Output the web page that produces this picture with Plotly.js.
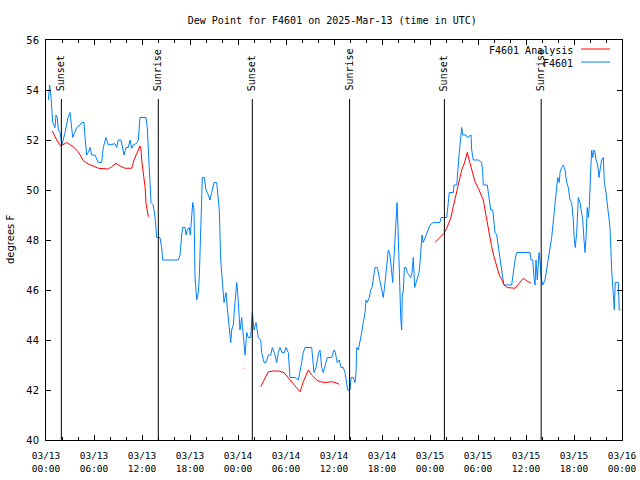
<!DOCTYPE html>
<html>
<head>
<meta charset="utf-8">
<script src="https://cdn.plot.ly/plotly-3.0.1.min.js"></script>
<style>html,body{margin:0;padding:0;background:#fff;}#chart{width:640px;height:480px;}</style>
</head>
<body>
<div id="chart"></div>
<script>
// Hours after 2025-03-13 00:00 UTC
const observedHours = [0.29,0.46,0.63,0.84,1.13,1.25,1.41,1.54,1.75,1.88,2.0,2.38,2.75,3.0,3.16,3.34,3.84,4.25,4.46,4.75,4.88,5.09,5.29,5.5,5.71,6.13,6.54,6.96,7.16,7.5,7.79,8.63,8.84,9.04,9.38,9.59,9.75,10.0,10.29,10.5,10.71,10.91,11.34,11.54,11.75,12.5,12.66,12.91,13.13,13.41,13.63,13.84,14.04,14.25,14.46,14.59,16.54,16.75,16.96,17.09,17.38,17.5,17.66,17.91,18.04,18.21,18.34,18.5,18.63,18.84,19.04,19.16,19.34,19.54,19.79,20.0,20.29,20.5,20.71,21.0,21.34,21.46,21.66,21.84,22.09,22.25,22.38,22.5,22.66,22.91,23.09,23.21,23.41,23.63,23.84,23.96,24.09,24.25,24.46,24.66,24.88,25.09,25.29,25.59,25.79,26.0,26.25,26.54,26.84,26.96,27.25,27.5,27.79,28.09,28.29,28.54,28.84,29.04,29.25,29.5,29.79,30.0,30.29,30.5,31.13,31.54,31.75,31.96,32.16,32.38,33.21,33.34,33.5,33.75,33.91,34.09,34.25,34.46,34.66,34.88,35.16,35.5,35.71,36.0,36.16,36.41,36.66,36.88,37.16,37.38,37.59,37.71,38.0,38.13,38.41,38.63,38.75,38.84,39.04,39.25,39.46,39.66,39.88,40.0,40.16,40.41,40.59,40.75,40.91,41.13,41.41,41.66,41.96,42.16,42.38,42.59,42.79,43.0,43.21,43.34,43.41,43.54,43.66,43.79,43.88,44.0,44.13,44.21,44.34,44.46,44.54,44.66,44.79,45.0,45.16,45.38,45.59,45.75,45.91,46.09,46.25,46.41,46.63,46.75,46.88,47.0,47.16,47.38,47.59,48.0,48.41,48.91,49.25,49.38,50.09,50.29,50.41,50.91,51.0,51.34,51.46,51.66,51.84,51.96,52.09,52.5,52.66,53.13,53.21,53.41,54.04,54.46,54.59,54.66,55.16,55.29,55.41,55.59,55.84,56.0,56.13,56.34,56.46,56.63,56.75,56.96,57.09,57.25,58.21,58.41,58.63,58.84,60.5,60.63,60.84,61.0,61.13,61.25,61.41,61.63,61.75,61.88,62.09,62.38,62.59,62.91,63.21,63.41,63.63,63.84,63.96,64.16,64.25,64.46,64.66,64.88,65.09,65.29,65.5,65.71,65.91,66.04,66.16,66.34,66.46,66.54,66.75,66.96,67.09,67.25,67.38,67.5,67.66,67.79,67.91,68.09,68.21,68.34,68.5,68.63,68.75,68.96,69.13,69.25,69.46,69.66,69.79,70.0,70.29,70.5,70.71,70.91,71.04,71.16,71.54,71.66,71.81];
const observedDewPoint = [53.6,54.2,53.7,52.7,52.5,53.0,52.9,52.4,52.3,52.0,51.8,52.3,52.9,53.1,52.6,52.1,52.5,52.6,52.7,52.7,52.1,51.4,51.5,51.7,51.4,51.4,51.1,51.1,51.7,52.1,51.8,51.85,51.7,52.0,52.0,51.67,51.4,51.7,51.7,52.0,51.67,51.8,51.87,52.0,52.9,52.9,52.5,50.9,49.5,49.4,48.9,48.1,48.1,48.1,47.7,47.2,47.2,47.4,48.2,48.5,48.5,48.2,48.4,48.5,48.2,49.1,49.5,49.2,46.5,45.6,45.9,46.5,48.9,50.5,50.5,50.0,49.8,49.6,49.9,50.3,50.3,49.9,49.2,47.2,46.3,45.5,45.7,45.9,45.3,44.4,43.9,44.4,44.6,45.5,46.3,45.9,45.1,44.4,44.9,44.3,43.4,44.3,44.1,44.1,45.1,44.4,44.7,44.1,44.0,43.5,43.1,43.1,43.4,43.4,43.7,43.5,43.1,43.5,43.7,43.5,43.5,43.7,43.5,42.5,42.5,42.4,42.7,43.1,43.5,43.7,43.7,43.2,42.7,42.9,43.2,43.5,43.6,42.9,42.7,43.0,43.3,43.3,43.3,43.6,43.5,43.1,43.2,42.9,42.9,42.7,42.3,42.0,42.0,42.5,42.5,42.3,42.7,43.7,43.6,43.9,44.3,44.7,45.1,45.6,45.5,45.7,46.0,46.1,46.5,46.9,46.9,46.5,46.1,45.7,46.3,47.1,47.6,47.4,46.8,46.3,46.8,47.7,48.5,49.2,49.5,48.5,47.2,45.9,44.9,44.4,45.9,45.9,46.9,46.9,46.7,46.6,46.5,46.7,47.3,46.1,46.3,46.4,46.7,47.1,47.8,48.2,47.9,48.1,48.3,48.6,48.7,48.7,48.7,48.9,48.9,49.5,49.9,49.9,50.2,50.2,50.8,51.5,52.1,52.5,52.2,52.2,52.1,52.2,51.6,51.2,51.2,51.1,50.7,50.2,50.2,49.9,49.5,49.2,49.2,48.5,48.3,48.2,47.9,47.5,47.1,46.8,46.5,46.2,46.2,46.7,47.2,47.5,47.5,47.2,47.2,46.5,46.2,47.2,46.4,47.5,47.2,46.5,46.2,46.4,46.9,47.5,48.1,48.8,49.5,50.3,50.5,50.3,50.7,50.9,51.0,50.8,50.3,50.1,49.6,49.5,48.8,48.0,47.7,48.3,48.9,49.7,49.5,49.1,48.8,48.0,47.5,48.1,49.3,48.9,49.3,50.8,51.6,51.3,51.6,51.5,51.2,51.0,50.5,50.8,51.2,51.3,50.3,49.9,49.1,48.5,46.8,45.7,45.2,46.3,46.3,45.2,45.2];

const analysisHours = [0.79,1.34,1.84,2.59,3.41,4.04,4.66,5.29,6.54,7.79,8.21,8.75,9.25,9.88,10.71,11.0,11.75,11.88,11.96,12.16,12.38,12.5,12.66,12.79,18.0,24.75,25.5,26.84,27.25,27.79,28.41,29.04,29.75,30.29,30.71,31.13,31.75,32.16,32.79,33.21,33.84,34.25,34.88,35.71,36.13,36.66,42.0,48.63,49.75,50.09,50.59,50.91,51.34,51.66,51.96,52.29,52.66,53.0,53.34,53.63,54.04,54.38,54.66,54.88,55.09,55.29,55.5,55.71,56.0,56.34,56.66,56.96,57.25,57.66,58.21,58.63,59.16,59.66,60.09,60.63];
const analysisDewPoint = [52.36,52.0,51.76,51.9,51.73,51.53,51.17,51.04,50.87,50.84,50.93,51.07,50.96,50.87,50.87,51.2,51.76,51.6,51.2,50.67,50.13,49.47,49.07,48.93,null,42.87,null,42.13,42.4,42.73,42.76,42.76,42.7,42.47,42.33,42.16,41.93,42.33,42.8,42.6,42.4,42.33,42.3,42.33,42.3,42.23,null,47.9,48.27,48.47,48.87,49.33,49.93,50.4,50.8,51.07,51.5,51.07,50.67,50.33,50.07,49.8,49.6,49.2,48.8,48.4,48.13,47.73,47.33,46.93,46.6,46.43,46.2,46.1,46.07,46.07,46.27,46.47,46.37,46.27];

const sunsetHours = [1.92, 25.79, 49.8];
const sunriseHours = [14.04, 37.95, 61.9];
const yTicks = [40,42,44,46,48,50,52,54,56];

function toDate(h){
  const d = new Date(Date.UTC(2025,2,13) + Math.round(h*3600000));
  const p = n => String(n).padStart(2,'0');
  return d.getUTCFullYear()+'-'+p(d.getUTCMonth()+1)+'-'+p(d.getUTCDate())+' '+p(d.getUTCHours())+':'+p(d.getUTCMinutes())+':'+p(d.getUTCSeconds());
}

// isolated analysis points get a small marker so they are visible
const analysisMarkerSize = analysisDewPoint.map((v,i)=>{
  if (v === null) return 0;
  const prev = i>0 ? analysisDewPoint[i-1] : null;
  const next = i<analysisDewPoint.length-1 ? analysisDewPoint[i+1] : null;
  return (prev===null && next===null) ? 2 : 0;
});

const RED = '#ff0000', BLUE = '#0080ff';
const mono = 'DejaVu Sans Mono, Liberation Mono, monospace';

const traces = [
  {x: observedHours.map(toDate), y: observedDewPoint, type:'scatter', mode:'lines', name:'F4601',
   line:{color:BLUE, width:1, shape:'linear'}, hoverinfo:'skip'},
  {x: analysisHours.map(toDate), y: analysisDewPoint, type:'scatter', mode:'lines+markers', name:'F4601 Analysis',
   line:{color:RED, width:1}, marker:{color:RED, size:analysisMarkerSize, symbol:'square'}, connectgaps:false, hoverinfo:'skip'}
];

const shapes = [], annotations = [];
sunsetHours.forEach(h => {
  shapes.push({type:'line', xref:'x', yref:'paper', x0:toDate(h), x1:toDate(h), y0:0, y1:0.8525, line:{color:'black', width:1}});
  annotations.push({xref:'x', yref:'paper', x:toDate(h), y:0.8675, text:'Sunset', textangle:-90, showarrow:false, xanchor:'center', yanchor:'bottom', font:{family:mono, size:10, color:'black'}});
});
sunriseHours.forEach(h => {
  shapes.push({type:'line', xref:'x', yref:'paper', x0:toDate(h), x1:toDate(h), y0:0, y1:0.8525, line:{color:'black', width:1}});
  annotations.push({xref:'x', yref:'paper', x:toDate(h), y:0.8675, text:'Sunrise', textangle:-90, showarrow:false, xanchor:'center', yanchor:'bottom', font:{family:mono, size:10, color:'black'}});
});
// key (text on the left, line sample on the right)
annotations.push({xref:'paper', yref:'paper', x:0.918, y:0.975, text:'F4601 Analysis', showarrow:false, xanchor:'right', yanchor:'middle', font:{family:mono, size:10, color:'black'}});
annotations.push({xref:'paper', yref:'paper', x:0.918, y:0.9425, text:'F4601', showarrow:false, xanchor:'right', yanchor:'middle', font:{family:mono, size:10, color:'black'}});
shapes.push({type:'line', xref:'paper', yref:'paper', x0:0.929, x1:0.979, y0:0.9775, y1:0.9775, line:{color:RED, width:1}});
shapes.push({type:'line', xref:'paper', yref:'paper', x0:0.929, x1:0.979, y0:0.945, y1:0.945, line:{color:BLUE, width:1}});
// y axis title
annotations.push({xref:'paper', yref:'paper', x:-0.0625, y:0.5, text:'degrees F', textangle:-90, showarrow:false, xanchor:'center', yanchor:'middle', font:{family:'DejaVu Sans, sans-serif', size:10, color:'black'}});

const layout = {
  width:640, height:480,
  margin:{l:46, r:18, t:40, b:40, pad:0},
  paper_bgcolor:'white', plot_bgcolor:'white',
  showlegend:false,
  title:{text:'Dew Point for F4601 on 2025-Mar-13 (time in UTC)', x:0.497, xref:'paper', xanchor:'center', y:0.958, yref:'container', yanchor:'middle', font:{family:mono, size:10, color:'black'}},
  xaxis:{type:'date', range:[toDate(0), toDate(72)], dtick:21600000, tick0:toDate(0), tickformat:'%m/%d<br>%H:%M',
    ticks:'inside', ticklen:5, tickcolor:'black', tickwidth:1, showline:true, linecolor:'black', linewidth:1, mirror:'ticks',
    showgrid:false, zeroline:false, ticklabelstandoff:7, tickfont:{family:mono, size:9.5, color:'black'},
    minor:{dtick:7200000, tick0:toDate(0), ticks:'inside', ticklen:3, tickcolor:'black', showgrid:false}},
  yaxis:{range:[40,56], tickvals:yTicks, ticktext:yTicks.map(String), ticks:'inside', ticklen:5, tickcolor:'black', tickwidth:1,
    showline:true, linecolor:'black', linewidth:1, mirror:'ticks', showgrid:false, zeroline:false, ticklabelstandoff:4,
    tickfont:{family:'DejaVu Sans, sans-serif', size:10, color:'black'}},
  shapes:shapes, annotations:annotations
};

Plotly.newPlot('chart', traces, layout, {staticPlot:true, displayModeBar:false});
</script>
</body>
</html>
